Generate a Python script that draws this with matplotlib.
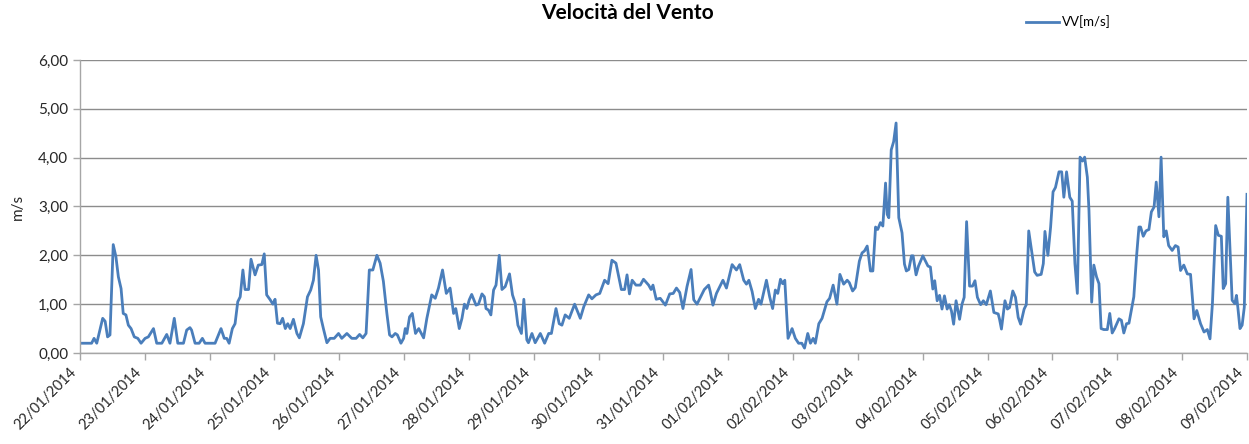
import matplotlib
matplotlib.use("Agg")
import matplotlib.pyplot as plt
import matplotlib.dates as mdates
import matplotlib.ticker as mticker
import matplotlib.transforms as mtransforms
import pandas as pd

# ----------------------------------------
# Data: wind speed readings (hours after 22/01/2014 00:00, m/s)
# ----------------------------------------
start_date = "2014-01-22"
end_date = "2014-02-09"

hours = [
    0, 4.3, 5.2, 6.2, 8.4, 9.3, 10.2, 11.1, 12.3, 13.3, 14.2, 15.2, 16, 17, 17.9, 18.9,
    20.1, 21.4, 22.6, 24.1, 25.3, 27.2, 28.4, 30.3, 32.1, 33.3, 34.9, 36.2, 38.3, 39.5,
    40.7, 41.3, 42.6, 44.1, 45.3, 46.3, 50, 52.2, 53.4, 54.3, 55.2, 56.4, 57.4, 58.4,
    59.3, 60.3, 61.1, 62.4, 63.3, 64.8, 66, 67.3, 68.2, 69.1, 70.4, 71.4, 72.2, 73.1,
    74.1, 75, 76, 76.9, 77.8, 79, 80.3, 81.2, 82.7, 84.2, 85.4, 86.4, 87.4, 88.3, 89.1,
    90.1, 91.4, 92.6, 94.1, 95.7, 96.9, 98.8, 100.6, 102.2, 103.5, 104.7, 105.9, 107.1,
    108.4, 109.9, 111.1, 112.3, 113.6, 114.6, 115.5, 116.7, 117.5, 118.8, 119.8, 120.4,
    121.0, 122, 123, 124.2, 125.4, 127.2, 128.4, 130.2, 131.5, 132.7, 134.2, 135.6, 137,
    138.3, 139.1, 140.4, 141.4, 142.3, 143.2, 144.1, 145, 146.6, 147.5, 148.8, 149.7,
    150.3, 151.2, 152.1, 153.1, 154, 155.2, 156.2, 157.4, 159, 160.1, 161.1, 162.1,
    163.4, 164.3, 165.4, 166, 167.3, 168.5, 170.4, 172, 173.5, 174.5, 176.2, 177.4,
    178.4, 179.6, 181.1, 183.1, 185.2, 186.5, 188.3, 189.5, 191, 192.4, 194.2, 195.5,
    196.9, 198.4, 200.4, 201.6, 202.5, 203.4, 204.4, 205.8, 207.4, 208.6, 210.5, 211.4,
    212.1, 213.3, 214.8, 216.7, 218.3, 219.6, 220.8, 222, 223.2, 224.7, 226.2, 227.2,
    228.4, 231.1, 232.7, 233.3, 234.3, 235.6, 238, 239.3, 241.4, 243, 244.2, 245.7,
    246.7, 247.6, 248.8, 250, 251.2, 252.1, 254.1, 255.3, 256.4, 257.4, 258.3, 259.3,
    260.1, 260.9, 262.1, 263.6, 264.8, 266, 267.2, 268.2, 269.4, 270.4, 271.4, 272.2,
    273.5, 274.7, 276.5, 277.5, 278.8, 280.2, 281.3, 282.7, 284, 284.8, 286, 287, 288.5,
    289.5, 290.4, 291.4, 292, 292.6, 293.5, 294.5, 295.3, 296.3, 297.2, 298.2, 298.8,
    299.4, 300.3, 301.2, 302.1, 303.1, 304.3, 305.2, 305.9, 306.8, 307.8, 308.4, 309.5,
    310.4, 312, 313, 313.9, 314.8, 315.7, 316.4, 317.3, 318.2, 319.1, 320, 321, 321.8,
    322.6, 323.4, 324.3, 325.6, 326.5, 327.3, 328.2, 329.3, 330.4, 331.3, 332.2, 333.4,
    334.4, 335.5, 337, 338.3, 339.9, 340.4, 341.1, 342.4, 343.3, 344.1, 345.3, 346.3,
    347.3, 348.2, 349.5, 350.3, 351.2, 352.5, 353.4, 354.3, 355.8, 356.6, 357.2, 358.3,
    359.3, 360.2, 361.1, 362.4, 363.4, 364.2, 365.2, 366.4, 367.3, 368.3, 369.2, 370.2,
    371.1, 371.9, 372.9, 373.5, 374.5, 375.3, 376.3, 377.2, 378, 379, 380.3, 381.2,
    382.1, 383, 384.6, 385.5, 386.4, 387.4, 388.3, 390.1, 391.1, 392, 392.6, 393.6,
    394.6, 395.7, 396.6, 397.6, 398.4, 399.4, 400.2, 401.2, 402.1, 403, 404.3, 405.5,
    406.5, 407.4, 408.6, 409.9, 411.1, 412.4, 413.4, 414.8, 416.1, 417.3, 418.3, 419.2,
    420.4, 421.4, 422.5, 423.2, 424.1, 424.9, 426.5, 427.5, 428.1, 428.6, 429.4, 430.2,
    431, 432,
]

wind_speed = [
    0.2, 0.2, 0.3, 0.2, 0.71, 0.65, 0.33, 0.37, 2.22, 1.97, 1.56, 1.32, 0.81, 0.78, 0.57, 0.5,
    0.33, 0.3, 0.2, 0.3, 0.33, 0.5, 0.2, 0.2, 0.38, 0.2, 0.71, 0.2, 0.2, 0.47,
    0.52, 0.47, 0.2, 0.2, 0.3, 0.2, 0.2, 0.5, 0.3, 0.3, 0.2, 0.5, 0.6, 1.05,
    1.15, 1.7, 1.3, 1.3, 1.92, 1.6, 1.8, 1.81, 2.03, 1.19, 1.09, 1.0, 1.1, 0.61,
    0.6, 0.71, 0.5, 0.6, 0.5, 0.69, 0.4, 0.31, 0.6, 1.15, 1.29, 1.49, 2.0, 1.7, 0.74,
    0.5, 0.21, 0.3, 0.3, 0.4, 0.3, 0.4, 0.3, 0.3, 0.38, 0.31, 0.4, 1.7,
    1.7, 2.0, 1.84, 1.47, 0.81, 0.37, 0.33, 0.4, 0.37, 0.2, 0.3, 0.5,
    0.4, 0.74, 0.81, 0.4, 0.5, 0.31, 0.71, 1.19, 1.12, 1.33, 1.7, 1.22, 1.33,
    0.81, 0.91, 0.5, 0.71, 1.0, 0.91, 1.09, 1.2, 0.98, 1.0, 1.21, 1.15,
    0.91, 0.88, 0.78, 1.29, 1.39, 2.0, 1.3, 1.36, 1.62, 1.19, 1.02, 0.57,
    0.4, 1.1, 0.27, 0.21, 0.4, 0.21, 0.4, 0.2, 0.4, 0.4, 0.91, 0.6,
    0.57, 0.78, 0.71, 1.0, 0.71, 0.95, 1.19, 1.11, 1.19, 1.22, 1.49, 1.42,
    1.9, 1.84, 1.3, 1.3, 1.6, 1.21, 1.49, 1.39, 1.39, 1.51, 1.39, 1.3,
    1.39, 1.1, 1.12, 0.98, 1.21, 1.22, 1.33, 1.24, 0.91, 1.36, 1.71, 1.09,
    1.0, 1.3, 1.39, 1.26, 0.98, 1.22, 1.49, 1.33, 1.81, 1.7, 1.81, 1.49,
    1.41, 1.49, 1.26, 0.91, 1.1, 1.0, 1.49, 1.15, 0.91, 1.29, 1.22, 1.51,
    1.42, 1.49, 0.3, 0.5, 0.3, 0.2, 0.2, 0.1, 0.4, 0.2, 0.3, 0.2,
    0.6, 0.71, 1.05, 1.12, 1.39, 1.0, 1.61, 1.41, 1.49, 1.44, 1.27, 1.34, 1.88,
    2.05, 2.09, 2.19, 1.95, 1.68, 1.68, 2.58, 2.53, 2.67, 2.6, 3.48, 2.84,
    2.77, 4.16, 4.33, 4.71, 2.77, 2.46, 1.82, 1.68, 1.71, 1.99, 1.99, 1.6,
    1.78, 1.99, 1.88, 1.78, 1.76, 1.31, 1.48, 1.07, 1.18, 0.9, 1.17, 0.9, 0.99,
    0.86, 0.59, 1.07, 0.69, 1.0, 1.14, 2.69, 1.37, 1.37, 1.48, 1.14, 0.99,
    1.07, 0.99, 1.27, 0.83, 0.8, 0.69, 0.49, 1.07, 0.9, 0.93, 1.27, 1.14,
    0.73, 0.59, 0.9, 0.99, 2.5, 2.0, 1.66, 1.59, 1.61, 1.83, 2.49, 2.0,
    2.58, 3.3, 3.39, 3.71, 3.71, 3.19, 3.71, 3.19, 3.11, 1.83, 1.22, 4.01,
    3.93, 4.01, 3.6, 2.92, 1.04, 1.8, 1.56, 1.42, 0.5, 0.48, 0.48, 0.81,
    0.41, 0.5, 0.7, 0.67, 0.41, 0.6, 0.61, 1.15, 1.97, 2.58, 2.58, 2.39,
    2.5, 2.53, 2.89, 2.99, 3.5, 2.79, 4.01, 2.38, 2.5, 2.2, 2.1, 2.2,
    2.17, 1.69, 1.8, 1.62, 1.61, 0.7, 0.87, 0.6, 0.43, 0.48, 0.29, 1.01,
    2.61, 2.41, 2.39, 1.32, 1.42, 3.19, 1.08, 1.01, 1.18, 0.94, 0.5, 0.57,
    0.94, 3.25,
]

y_ticks = [0, 1, 2, 3, 4, 5, 6]

# ----------------------------------------
# Build timestamps
# ----------------------------------------
times = pd.Timestamp(start_date) + pd.to_timedelta(hours, unit="h")

# ----------------------------------------
# Figure / axes layout
# ----------------------------------------
plt.rcParams["font.family"] = ["Lato", "DejaVu Sans"]

fig = plt.figure(figsize=(12.49, 4.44), dpi=100)
ax = fig.add_axes([80 / 1249, 1 - 353 / 444, (1247 - 80) / 1249, (353 - 60) / 444])

line_color = "#4a7ebb"
grid_color = "#8c8c8c"
spine_color = "#a6a6a6"

ax.plot(times, wind_speed, color=line_color, linewidth=2.0, label="VV[m/s]",
        solid_joinstyle="round")

# ----------------------------------------
# Axes styling
# ----------------------------------------
ax.set_xlim(pd.Timestamp(start_date), pd.Timestamp(end_date))
ax.set_ylim(0, 6)
ax.set_yticks(y_ticks)
ax.yaxis.set_major_formatter(mticker.FuncFormatter(lambda v, p: f"{v:.2f}".replace(".", ",")))

ax.xaxis.set_major_locator(mdates.DayLocator())
ax.xaxis.set_major_formatter(mdates.DateFormatter("%d/%m/%Y"))

ax.grid(axis="y", color=grid_color, linewidth=1)
ax.set_axisbelow(True)
for side in ["top", "right"]:
    ax.spines[side].set_visible(False)
for side in ["left", "bottom"]:
    ax.spines[side].set_color(spine_color)
    ax.spines[side].set_linewidth(1)

ax.tick_params(axis="both", colors=spine_color, length=5, width=1, labelsize=11,
               labelcolor="#262626")
ax.tick_params(axis="x", pad=7, labelsize=10.5)

# rotated date labels, nudged left so the last one stays inside the picture
shift = mtransforms.ScaledTranslation(-6 / 100, 0, fig.dpi_scale_trans)
for lbl in ax.get_xticklabels():
    lbl.set_rotation(45)
    lbl.set_ha("right")
    lbl.set_va("center")
    lbl.set_rotation_mode("anchor")
    lbl.set_transform(lbl.get_transform() + shift)

# ----------------------------------------
# Texts and legend
# ----------------------------------------
fig.text(0.502, 1 - 13 / 444, "Velocità del Vento", ha="center", va="center",
         fontsize=15, fontweight="bold", color="#000000")
fig.text(18 / 1249, 1 - 207 / 444, "m/s", rotation=90, ha="center", va="center",
         fontsize=11, color="#262626")

fig.legend(loc="center left", bbox_to_anchor=(1026 / 1249, 1 - 22 / 444),
           frameon=False, fontsize=9.5, handlelength=2.5, handletextpad=0.2,
           borderpad=0, borderaxespad=0)

fig.savefig("out.png", dpi=100)
